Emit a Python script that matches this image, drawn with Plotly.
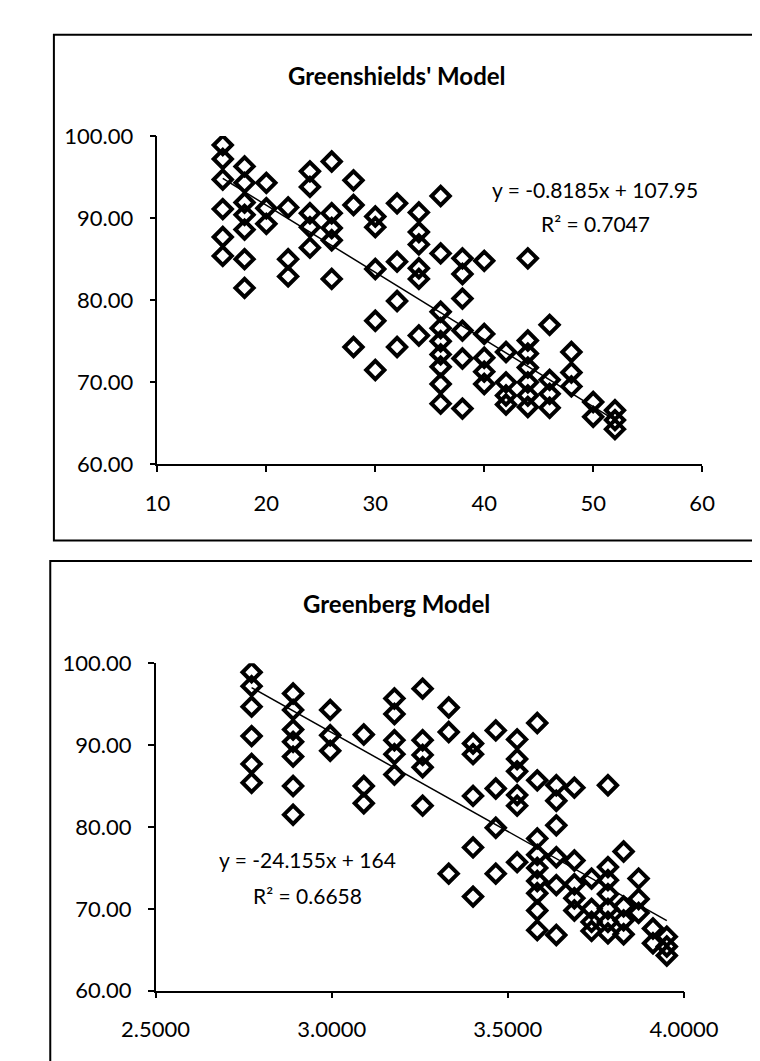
import numpy as np
import plotly.graph_objects as go

# ---------------- data ----------------
density = (
    [16] * 6 + [18] * 7 + [20] * 3 + [22] * 3 + [24] * 5 + [26] * 5 + [28] * 3 +
    [30] * 5 + [32] * 4 + [34] * 6 + [36] * 9 + [38] * 6 + [40] * 5 + [42] * 4 +
    [44] * 7 + [46] * 4 + [48] * 3 + [50] * 2 + [52] * 3
)
speed = [
    98.9, 97.2, 94.7, 91.1, 87.7, 85.4,            # 16
    96.3, 94.3, 91.9, 90.4, 88.6, 85.0, 81.5,      # 18
    94.3, 91.2, 89.3,                              # 20
    91.3, 85.0, 82.9,                              # 22
    95.7, 93.8, 90.6, 88.9, 86.4,                  # 24
    96.9, 90.6, 88.8, 87.3, 82.6,                  # 26
    94.6, 91.6, 74.3,                              # 28
    90.2, 88.9, 83.8, 77.5, 71.5,                  # 30
    91.8, 84.7, 79.9, 74.3,                        # 32
    90.7, 88.3, 86.8, 83.9, 82.6, 75.7,            # 34
    92.7, 85.7, 78.6, 76.6, 75.0, 73.4, 71.9, 69.8, 67.4,  # 36
    85.1, 83.2, 80.2, 76.3, 72.9, 66.8,            # 38
    84.8, 75.9, 73.0, 71.3, 69.8,                  # 40
    73.7, 70.0, 68.4, 67.3,                        # 42
    85.1, 75.1, 73.5, 71.8, 70.0, 68.4, 67.0,      # 44
    77.0, 70.3, 68.6, 66.9,                        # 46
    73.7, 71.2, 69.5,                              # 48
    67.6, 65.8,                                    # 50
    66.6, 65.4, 64.3,                              # 52
]
ln_density = np.log(density)   # Greenberg model uses ln(k)

titles = ["Greenshields' Model", "Greenberg Model"]
gs_slope, gs_intercept = -0.8185, 107.95
gb_slope, gb_intercept = -24.155, 164
gs_eq = "y = -0.8185x + 107.95"
gs_r2_text = "R² = 0.7047"
gb_eq = "y = -24.155x + 164"
gb_r2_text = "R² = 0.6658"

# ---------------- layout helpers ----------------
W, H = 760, 1061
def px(x):
    return x / W
def py(y):
    return 1 - y / H

FONT = "Lato"
marker = dict(symbol="diamond-open", size=14, color="black",
              line=dict(width=4, color="black"))

fig = go.Figure()

# top: Greenshields
fig.add_trace(go.Scatter(x=density, y=speed, mode="markers", marker=marker,
                         xaxis="x", yaxis="y", showlegend=False))
kx = np.array([min(density), max(density)])
fig.add_trace(go.Scatter(x=kx, y=gs_slope * kx + gs_intercept, mode="lines",
                         line=dict(color="black", width=1.5),
                         xaxis="x", yaxis="y", showlegend=False))

# bottom: Greenberg
fig.add_trace(go.Scatter(x=ln_density, y=speed, mode="markers", marker=marker,
                         xaxis="x2", yaxis="y2", showlegend=False))
lx = np.array([ln_density.min(), ln_density.max()])
fig.add_trace(go.Scatter(x=lx, y=gb_slope * lx + gb_intercept, mode="lines",
                         line=dict(color="black", width=1.5),
                         xaxis="x2", yaxis="y2", showlegend=False))

axis_common = dict(showline=True, linecolor="black", linewidth=1.5,
                   ticks="outside", ticklen=6, tickcolor="black", tickwidth=1.5,
                   showgrid=False, zeroline=False,
                   tickfont=dict(family=FONT, size=22, color="black"),
                   ticklabelstandoff=12)

fig.update_layout(
    width=W, height=H,
    margin=dict(l=0, r=0, t=0, b=0),
    paper_bgcolor="white", plot_bgcolor="white",
    xaxis=dict(domain=[px(126), px(726)], anchor="y", range=[10, 60],
               tick0=10, dtick=10, **axis_common),
    yaxis=dict(domain=[py(454), py(117)], anchor="x", range=[60, 100],
               tick0=60, dtick=10, tickformat=".2f", **axis_common),
    xaxis2=dict(domain=[px(124), px(706)], anchor="y2", range=[2.5, 4.0],
                tick0=2.5, dtick=0.5, tickformat=".4f", **axis_common),
    yaxis2=dict(domain=[py(994), py(658)], anchor="x2", range=[60, 100],
                tick0=60, dtick=10, tickformat=".2f", **axis_common),
)

# chart borders
fig.add_shape(type="rect", xref="paper", yref="paper",
              x0=px(12), x1=px(790), y0=py(532), y1=py(13),
              line=dict(color="black", width=2))
fig.add_shape(type="rect", xref="paper", yref="paper",
              x0=px(8), x1=px(790), y0=py(1090), y1=py(553),
              line=dict(color="black", width=2))

# titles
title_font = dict(family=FONT, size=24, color="black")
fig.add_annotation(text="<b>" + titles[0] + "</b>", xref="paper", yref="paper",
                   x=px(390), y=py(55), xanchor="center", yanchor="middle",
                   showarrow=False, font=title_font)
fig.add_annotation(text="<b>" + titles[1] + "</b>", xref="paper", yref="paper",
                   x=px(389), y=py(597), xanchor="center", yanchor="middle",
                   showarrow=False, font=title_font)

# trendline labels
eq_font = dict(family=FONT, size=21, color="black")
fig.add_annotation(text=gs_eq, xref="x", yref="y", x=50.2, y=93.5,
                   showarrow=False, font=eq_font)
fig.add_annotation(text=gs_r2_text, xref="x", yref="y", x=50.2, y=89.3,
                   showarrow=False, font=eq_font)
fig.add_annotation(text=gb_eq, xref="x2", yref="y2", x=2.93, y=76.0,
                   showarrow=False, font=eq_font)
fig.add_annotation(text=gb_r2_text, xref="x2", yref="y2", x=2.93, y=71.6,
                   showarrow=False, font=eq_font)

fig.write_html("out.html")
